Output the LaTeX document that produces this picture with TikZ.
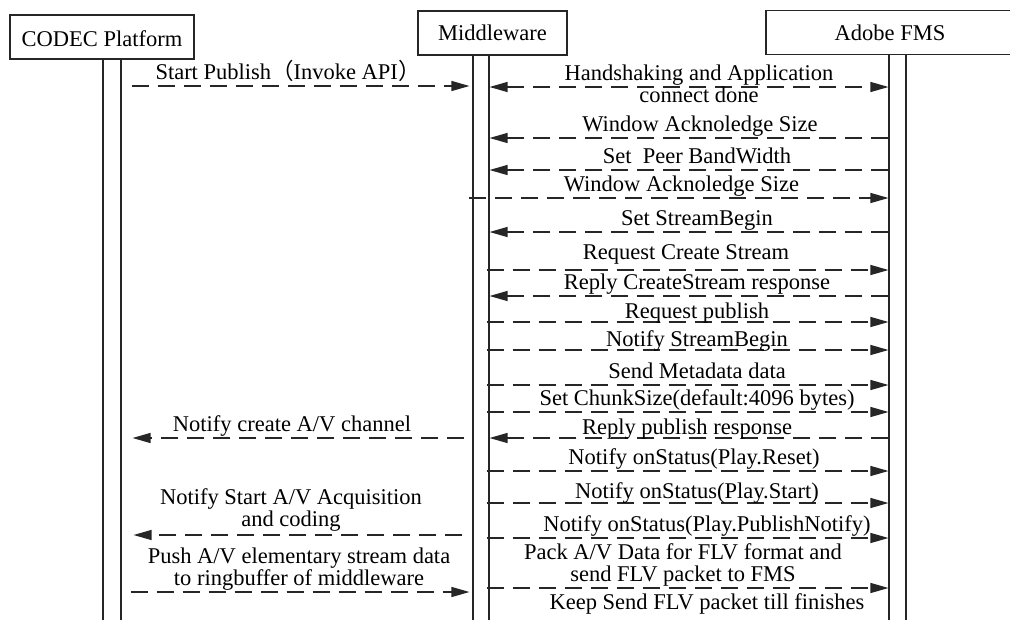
\documentclass[tikz,border=0pt]{standalone}
\usepackage{fontspec}
\setmainfont{Liberation Serif}
\newfontfamily\cjk{Noto Sans CJK SC}
\usetikzlibrary{arrows.meta, positioning}
\definecolor{ink}{HTML}{262626}
\tikzset{
  >={Triangle[length=18pt, width=10pt]},
  hdr/.style={draw=ink, line width=1.1pt, minimum height=44pt, inner sep=2pt, font=\fontsize{22.5}{22}\selectfont},
  lifebar/.style={draw=ink, line width=1.1pt, minimum height=580pt, anchor=north, inner sep=0pt},
  msg/.style={draw=ink, line width=1.3pt, dash pattern=on 17pt off 9pt, ->},
  lbl/.style={font=\fontsize{22.5}{22}\selectfont, text=black, align=center, inner sep=1pt, text depth=5pt, midway, above},
}

\begin{document}
\begin{tikzpicture}[x=1pt, y=-1pt]
\clip (0,0) rectangle (1010,619);
% actors
\node[hdr, minimum width=184pt, text depth=0pt, yshift=0pt] (codec) at (102,37) {\raisebox{-3pt}{CODEC Platform}};
\node[hdr, minimum width=149pt] (mw) at (492.5,33) {Middleware};
\node[hdr, minimum width=248pt] (fms) at (890,32.5) {\raisebox{-3pt}{Adobe FMS}};
% activation bars
\node[lifebar, minimum width=18pt] (cbar) at (112,59) {};
\node[lifebar, minimum width=16pt] (mbar) at (481,55) {};
\node[lifebar, minimum width=17pt] (fbar) at (897.5,54) {};

% codec <-> middleware
\draw[msg, shorten <=10pt, shorten >=3pt] (cbar.east |- 0,86) -- (mbar.west |- 0,86)
  node[lbl, xshift=-9pt] {Start Publish{\cjk（}Invoke API{\cjk）}};
\draw[msg, shorten <=8pt, shorten >=11pt] (mbar.west |- 0,438) -- (cbar.east |- 0,438)
  node[lbl, xshift=-5pt] {Notify create A/V channel};
\draw[msg, shorten <=10pt, shorten >=12pt] (mbar.west |- 0,535) -- (cbar.east |- 0,535)
  node[lbl, xshift=-6pt, yshift=2pt] {Notify Start A/V Acquisition\\and coding};
\draw[msg, shorten <=9pt, shorten >=3pt] (cbar.east |- 0,592) -- (mbar.west |- 0,592)
  node[lbl, xshift=2pt] {Push A/V elementary stream data\\to ringbuffer of middleware};

% middleware <-> fms
\draw[msg, <->] (mbar.east |- 0,87) -- (fbar.west |- 0,87)
  node[lbl, anchor=center, xshift=10pt, yshift=1pt] {Handshaking and Application\\connect done};
\draw[msg] (fbar.west |- 0,138) -- (mbar.east |- 0,138) node[lbl, xshift=11pt] {Window Acknoledge Size};
\draw[msg] (fbar.west |- 0,170) -- (mbar.east |- 0,170) node[lbl, xshift=8pt] {Set\ \ Peer BandWidth};
\draw[msg, shorten <=-3pt] (mbar.west |- 0,198) -- (fbar.west |- 0,198) node[lbl, xshift=1pt] {Window Acknoledge Size};
\draw[msg] (fbar.west |- 0,232) -- (mbar.east |- 0,232) node[lbl, xshift=8pt] {Set StreamBegin};
\draw[msg, shorten <=-3pt] (mbar.east |- 0,270) -- (fbar.west |- 0,270) node[lbl, xshift=-3pt, yshift=4pt] {Request Create Stream};
\draw[msg] (fbar.west |- 0,296) -- (mbar.east |- 0,296) node[lbl, xshift=8pt] {Reply CreateStream response};
\draw[msg, shorten <=-3pt] (mbar.east |- 0,322) -- (fbar.west |- 0,322) node[lbl, xshift=8pt, yshift=-3pt] {Request publish};
\draw[msg, shorten <=-3pt] (mbar.east |- 0,350) -- (fbar.west |- 0,350) node[lbl, xshift=8pt, yshift=-3pt] {Notify StreamBegin};
\draw[msg, shorten <=-3pt] (mbar.east |- 0,385) -- (fbar.west |- 0,385) node[lbl, xshift=8pt] {Send Metadata data};
\draw[msg, shorten <=-3pt] (mbar.east |- 0,412) -- (fbar.west |- 0,412) node[lbl, xshift=8pt] {Set ChunkSize(default:4096 bytes)};
\draw[msg] (fbar.west |- 0,438) -- (mbar.east |- 0,438) node[lbl, xshift=-2pt, yshift=-3pt] {Reply publish response};
\draw[msg, shorten <=-3pt] (mbar.east |- 0,471) -- (fbar.west |- 0,471) node[lbl, xshift=5pt] {Notify onStatus(Play.Reset)};
\draw[msg, shorten <=-3pt] (mbar.east |- 0,503) -- (fbar.west |- 0,503) node[lbl, xshift=8pt, yshift=-2pt] {Notify onStatus(Play.Start)};
\draw[msg, shorten <=-3pt] (mbar.east |- 0,538) -- (fbar.west |- 0,538) node[lbl, xshift=18pt] {Notify onStatus(Play.PublishNotify)};
\draw[msg, shorten <=-3pt] (mbar.east |- 0,588) -- (fbar.west |- 0,588)
  node[lbl, xshift=-6pt] {Pack A/V Data for FLV format and\\send FLV packet to FMS}
  node[lbl, below, xshift=18pt, yshift=-4pt] {Keep Send FLV packet till finishes};
\end{tikzpicture}
\end{document}
